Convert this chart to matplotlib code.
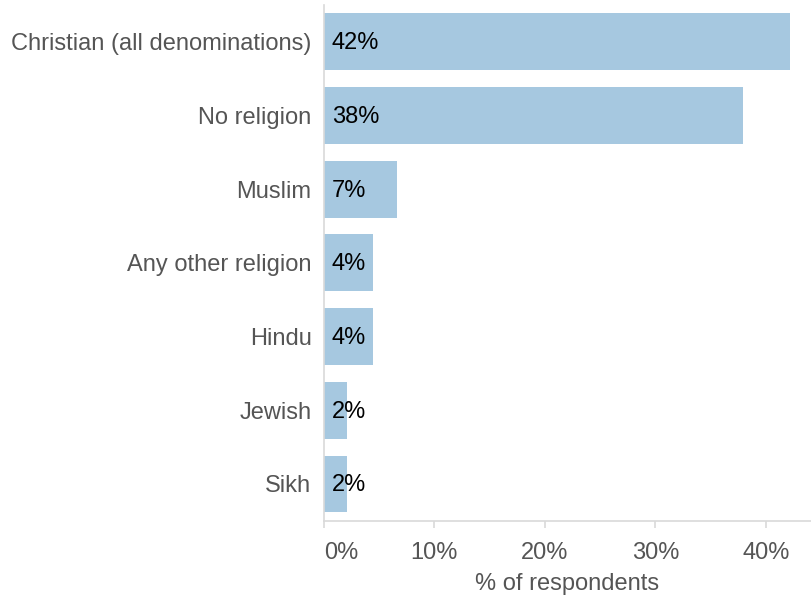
import matplotlib.pyplot as plt

# share of respondents by religion
religions = ["Christian (all denominations)", "No religion", "Muslim",
             "Any other religion", "Hindu", "Jewish", "Sikh"]
shares = [42.2, 37.9, 6.6, 4.4, 4.4, 2.1, 2.1]
ticks = [0, 10, 20, 30, 40]

plt.rcParams['font.family'] = ['Liberation Sans', 'DejaVu Sans']

fig = plt.figure(figsize=(8.11, 5.98), dpi=100)
ax = fig.add_axes([324 / 811, 1 - 520.7 / 598, 1 - 324 / 811, 515.7 / 598])

ypos = range(len(religions))
ax.barh(ypos, shares, height=0.77, color='#a6c8e0')
for y, v in zip(ypos, shares):
    ax.text(0.7, y + 0.02, f"{v:.0f}%", va='center', ha='left', fontsize=17, color='black')

ax.set_ylim(len(religions) - 0.5, -0.5)
ax.set_xlim(0, 44.1)
ax.set_yticks(list(ypos))
ax.set_yticklabels(religions)
ax.set_xticks(ticks)
ax.set_xticklabels([f"{t}%" for t in ticks])
ax.get_xticklabels()[0].set_horizontalalignment('left')
ax.set_xlabel("% of respondents", fontsize=17, color='#555555', labelpad=7)

for s in ['top', 'right']:
    ax.spines[s].set_visible(False)
for s in ['left', 'bottom']:
    ax.spines[s].set_color('#d9d9d9')
    ax.spines[s].set_linewidth(1.2)
ax.tick_params(axis='y', length=0, pad=9, labelsize=17, labelcolor='#555555')
ax.tick_params(axis='x', length=5, width=1.2, color='#d9d9d9', pad=10,
               labelsize=17, labelcolor='#555555')

fig.savefig("out.png", dpi=100)
